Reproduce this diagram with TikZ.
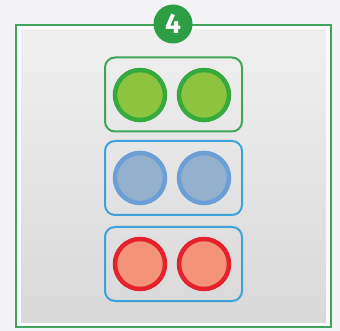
\documentclass[tikz,border=0pt]{standalone}
\usepackage{fontspec}
\setmainfont{Fira Sans}
\definecolor{pagebg}{HTML}{F4F4F6}
\definecolor{framegreen}{HTML}{3FA558}
\definecolor{badgegreen}{HTML}{2E9E44}
\definecolor{ringgreen}{HTML}{37AA3E}
\definecolor{fillgreen}{HTML}{8DC43F}
\definecolor{boxblue}{HTML}{3CA2D9}
\definecolor{ringblue}{HTML}{6B9FD6}
\definecolor{fillblue}{HTML}{93B1CC}
\definecolor{ringred}{HTML}{E4222B}
\definecolor{fillred}{HTML}{F5927A}
\tikzset{
	grp/.style={draw, line width=2pt, rounded corners=10pt, minimum width=137pt, minimum height=74pt},
	dot/.style={circle, line width=4.5pt, minimum size=50pt, inner sep=0pt}
}
\begin{document}
\begin{tikzpicture}[x=1pt, y=-1pt]
		\useasboundingbox (0, 0) rectangle (340, 331);
		\fill[pagebg] (0, 0) rectangle (340, 331);
		
		% frame
		\fill[white] (16, 25) rectangle (331, 327);
		\shade[top color=black!6, bottom color=black!15] (21, 30) rectangle (326, 322);
		\draw[framegreen, line width=2pt] (16, 25) rectangle (331, 327);
		
		\node[circle, fill=badgegreen, minimum size=39pt, inner sep=0pt, text=white,
			font=\fontsize{28}{28}\selectfont\bfseries] (num) at (173, 24) {4};
		
		% groups
		\node[grp, draw=framegreen] (gbox) at (173.5, 94.5) {};
		\node[grp, draw=boxblue] (bbox) at (173.5, 178) {};
		\node[grp, draw=boxblue] (rbox) at (173.5, 264) {};
		
		\node[dot, draw=ringgreen, fill=fillgreen] (g1) at (140, 95) {};
		\node[dot, draw=ringgreen, fill=fillgreen] (g2) at (204, 95) {};
		\node[dot, draw=ringblue, fill=fillblue] (b1) at (140, 178) {};
		\node[dot, draw=ringblue, fill=fillblue] (b2) at (204, 178) {};
		\node[dot, draw=ringred, fill=fillred] (r1) at (140, 264) {};
		\node[dot, draw=ringred, fill=fillred] (r2) at (204, 264) {};
	\end{tikzpicture}
\end{document}
